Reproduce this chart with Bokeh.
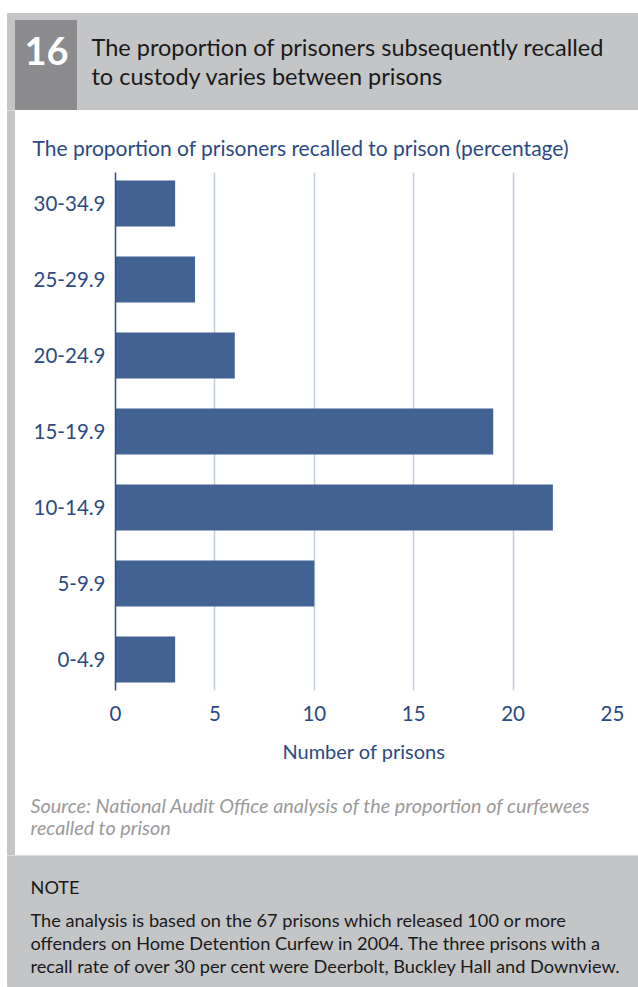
from bokeh.plotting import figure
from bokeh.models import Range1d, FixedTicker, ColumnDataSource, Label
from bokeh.layouts import column, row
from bokeh.embed import file_html
from bokeh.resources import INLINE

# ---- data ----
categories = ["0-4.9", "5-9.9", "10-14.9", "15-19.9", "20-24.9", "25-29.9", "30-34.9"]
counts = [3, 10, 22, 19, 6, 4, 3]
x_ticks = [0, 5, 10, 15, 20, 25]

title_lines = ["The proportion of prisoners subsequently recalled",
               "to custody varies between prisons"]
figure_number = "16"
subtitle = "The proportion of prisoners recalled to prison (percentage)"
x_label = "Number of prisons"
source_lines = ["Source: National Audit Office analysis of the proportion of curfewees",
                "recalled to prison"]
note_head = "NOTE"
note_lines = ["The analysis is based on the 67 prisons which released 100 or more",
              "offenders on Home Detention Curfew in 2004. The three prisons with a",
              "recall rate of over 30 per cent were Deerbolt, Buckley Hall and Downview."]

# ---- style ----
GRAY = "#c4c5c7"
DARK = "#8b8b8d"
BLUE_TXT = "#2b4a84"
BAR = "#416293"
GRID = "#c3cde0"
FONT = "Lato"


def deco(w, h, bg="white"):
    f = figure(width=w, height=h, x_range=Range1d(0, w), y_range=Range1d(h, 0),
               toolbar_location=None, output_backend="svg", min_border=0,
               x_axis_type=None, y_axis_type=None, outline_line_color=None,
               background_fill_color=bg, border_fill_color=bg)
    return f


def label(f, x, y, text, size, color, style="normal", align="left"):
    f.add_layout(Label(x=x, y=y, text=text, text_font=FONT, text_font_size=size,
                       text_color=color, text_font_style=style, text_align=align,
                       text_baseline="middle"))


# header
hdr = deco(638, 110)
hdr.quad(left=7, right=638, top=13, bottom=110, color=GRAY)
hdr.quad(left=15, right=76, top=20, bottom=110, color=DARK)
label(hdr, 46, 50, figure_number, "38px", "white", style="bold", align="center")
label(hdr, 91, 46, title_lines[0], "23.5px", "#1a1a1a")
label(hdr, 91, 75, title_lines[1], "23.5px", "#1a1a1a")

# left strip
strip = deco(15, 745)
strip.quad(left=7, right=15, top=0, bottom=745, color=GRAY)

# subtitle
sub = deco(623, 62)
label(sub, 17, 37, subtitle, "21px", BLUE_TXT)

# chart
ys = list(range(len(categories)))
src = ColumnDataSource(dict(y=ys, count=counts, cat=categories))
p = figure(width=623, height=608, x_range=Range1d(0, 25), y_range=Range1d(-0.408, 6.408),
           toolbar_location=None, output_backend="svg",
           min_border_left=100, min_border_right=26, min_border_top=0, min_border_bottom=90,
           outline_line_color=None, background_fill_color="white", border_fill_color="white")
p.hbar(y="y", right="count", left=0, height=0.605, source=src, fill_color=BAR, line_color=None)

p.xaxis.ticker = FixedTicker(ticks=x_ticks)
p.xaxis.axis_line_color = None
p.xaxis.major_tick_line_color = None
p.xaxis.minor_tick_line_color = None
p.xaxis.major_label_text_font = FONT
p.xaxis.major_label_text_font_size = "20.5px"
p.xaxis.major_label_text_color = BLUE_TXT
p.xaxis.major_label_standoff = 9
p.xaxis.axis_label = x_label
p.xaxis.axis_label_text_font = FONT
p.xaxis.axis_label_text_font_size = "20px"
p.xaxis.axis_label_text_font_style = "normal"
p.xaxis.axis_label_text_color = BLUE_TXT
p.xaxis.axis_label_standoff = 15

p.yaxis.ticker = FixedTicker(ticks=ys)
p.yaxis.major_label_overrides = {i: c for i, c in zip(ys, categories)}
p.yaxis.axis_line_color = "#2f4f86"
p.yaxis.axis_line_width = 1.5
p.yaxis.major_tick_line_color = None
p.yaxis.minor_tick_line_color = None
p.yaxis.major_label_text_font = FONT
p.yaxis.major_label_text_font_size = "20.5px"
p.yaxis.major_label_text_color = BLUE_TXT
p.yaxis.major_label_standoff = 4

p.xgrid.ticker = FixedTicker(ticks=x_ticks[1:])
p.xgrid.grid_line_color = GRID
p.xgrid.grid_line_width = 1.5
p.ygrid.grid_line_color = None

# source
srcfig = deco(623, 75)
label(srcfig, 15, 24, source_lines[0], "19.8px", "#9b9b9b", style="italic")
label(srcfig, 15, 46, source_lines[1], "19.8px", "#9b9b9b", style="italic")

# note
note = deco(638, 132)
note.quad(left=7, right=638, top=0, bottom=131, color=GRAY)
label(note, 30, 31, note_head, "18.2px", "#1a1a1a")
for i, t in enumerate(note_lines):
    label(note, 30, 64 + 23 * i, t, "18.2px", "#1a1a1a")

middle = column(column(sub), column(p), column(srcfig), spacing=0)
layout = column(hdr, row(strip, middle, spacing=0), note, spacing=0)

open("out.html", "w").write(file_html(layout, INLINE))
